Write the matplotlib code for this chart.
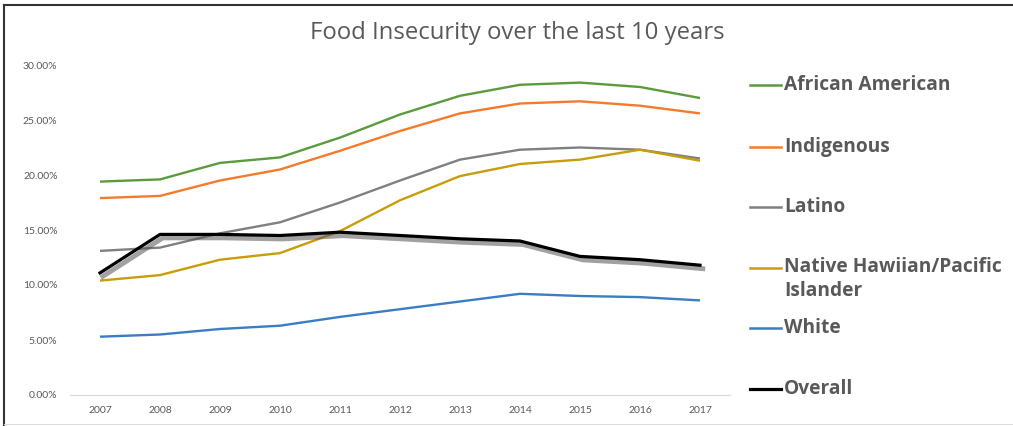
import matplotlib
matplotlib.use("Agg")
import matplotlib.pyplot as plt
import matplotlib.patheffects as pe
from matplotlib.lines import Line2D
from matplotlib.ticker import FuncFormatter

plt.rcParams['font.family'] = ['Lato', 'DejaVu Sans']

years = ['2007', '2008', '2009', '2010', '2011', '2012', '2013', '2014', '2015', '2016', '2017']
african_american = [19.4, 19.6, 21.1, 21.6, 23.4, 25.5, 27.2, 28.2, 28.4, 28.0, 27.0]
indigenous = [17.9, 18.1, 19.5, 20.5, 22.2, 24.0, 25.6, 26.5, 26.7, 26.3, 25.6]
latino = [13.1, 13.4, 14.7, 15.7, 17.5, 19.5, 21.4, 22.3, 22.5, 22.3, 21.5]
native_hawaiian = [10.4, 10.9, 12.3, 12.9, 14.9, 17.7, 19.9, 21.0, 21.4, 22.3, 21.3]
white = [5.3, 5.5, 6.0, 6.3, 7.1, 7.8, 8.5, 9.2, 9.0, 8.9, 8.6]
overall = [11.1, 14.6, 14.6, 14.5, 14.8, 14.5, 14.2, 14.0, 12.6, 12.3, 11.8]

labels = ['African American', 'Indigenous', 'Latino',
          'Native Hawiian/Pacific\nIslander', 'White', 'Overall']
colors = ['#5B9B3D', '#F47B2E', '#808080', '#C89D0A', '#3B7DC4', '#000000']
series = [african_american, indigenous, latino, native_hawaiian, white, overall]

fig = plt.figure(figsize=(10.13, 4.26), dpi=100)
ax = fig.add_axes([70 / 1013, 31 / 426, 660 / 1013, 330 / 426])

x = range(len(years))
for vals, c, lab in zip(series, colors, labels):
    v = [p / 100 for p in vals]
    if lab == 'Overall':
        ax.plot(x, v, color=c, lw=2.3, zorder=5,
                path_effects=[pe.SimpleLineShadow(offset=(2, -2.5), shadow_color='#555555', alpha=0.55, linewidth=3.5),
                              pe.Normal()])
    else:
        ax.plot(x, v, color=c, lw=1.7, solid_capstyle='butt')

ax.set_xlim(-0.5, len(years) - 0.5)
ax.set_ylim(0, 0.30)
ax.set_yticks([0, 0.05, 0.10, 0.15, 0.20, 0.25, 0.30])
ax.yaxis.set_major_formatter(FuncFormatter(lambda v, p: '%.2f%%' % (v * 100)))
ax.set_xticks(list(x))
ax.set_xticklabels(years)
ax.tick_params(axis='both', length=0, labelsize=7.5, colors='#595959')
ax.tick_params(axis='x', pad=8)
ax.tick_params(axis='y', pad=9)
for s in ['top', 'right', 'left']:
    ax.spines[s].set_visible(False)
ax.spines['bottom'].set_color('#D9D9D9')
ax.spines['bottom'].set_linewidth(0.8)

fig.text(517 / 1013, 1 - 33 / 426, 'Food Insecurity over the last 10 years',
         ha='center', va='center', fontsize=17.2, color='#595959',
         family=['Open Sans', 'DejaVu Sans'])

# legend, drawn by hand to get the Excel-style spacing
leg_y = [85, 147, 207, 268, 328, 389]
for yy, c, lab in zip(leg_y, colors, labels):
    fy = 1 - yy / 426
    fig.add_artist(Line2D([750 / 1013, 781 / 1013], [fy, fy], color=c,
                          lw=2.3 if c == '#000000' else 1.8))
    if '\n' in lab:
        fig.text(784 / 1013, fy + 11 / 426, lab, ha='left', va='top',
                 fontsize=13.8, fontweight='bold', color='#595959', linespacing=1.3,
                 family=['Open Sans', 'DejaVu Sans'])
    else:
        fig.text(784 / 1013, fy, lab, ha='left', va='center',
                 fontsize=13.8, fontweight='bold', color='#595959',
                 family=['Open Sans', 'DejaVu Sans'])

# outer frame
fig.add_artist(Line2D([4 / 1013, 1], [1 - 5 / 426, 1 - 5 / 426], color='#333333', lw=1.5))
fig.add_artist(Line2D([4 / 1013, 4 / 1013], [0, 1 - 5 / 426], color='#333333', lw=1.5))
fig.add_artist(Line2D([4 / 1013, 1], [2 / 426, 2 / 426], color='#DDDDDD', lw=0.8))

fig.savefig('out.png', dpi=100)
